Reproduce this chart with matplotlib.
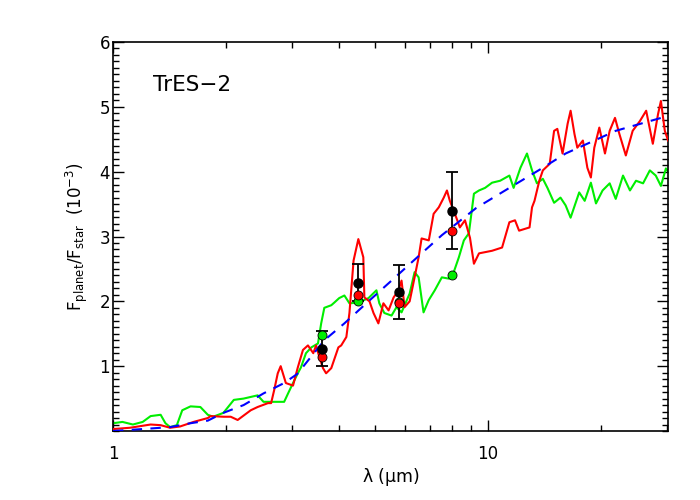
import numpy as np
import matplotlib
matplotlib.use('Agg')
from matplotlib import pyplot as plt
from matplotlib.ticker import FixedLocator, NullFormatter, MultipleLocator

# model spectrum 1 (red)
red_wl = [1.0, 1.11, 1.26, 1.34, 1.42, 1.51, 1.64, 1.79, 1.82, 1.97, 2.06, 2.15, 2.33, 2.43,
          2.59, 2.64, 2.69, 2.75, 2.80, 2.89, 3.02, 3.11, 3.21, 3.31, 3.42, 3.48, 3.55, 3.63,
          3.70, 3.82, 3.99, 4.06, 4.19, 4.27, 4.38, 4.51, 4.65, 4.68, 4.83, 4.95, 5.10, 5.26,
          5.43, 5.60, 5.77, 5.88, 5.99, 6.18, 6.37, 6.53, 6.65, 6.95, 7.16, 7.39, 7.62, 7.77,
          7.91, 8.16, 8.41, 8.68, 8.95, 9.17, 9.46, 10.25, 10.9, 11.4, 11.8, 12.1, 12.9, 13.1,
          13.3, 13.7, 14.0, 14.6, 15.0, 15.3, 15.8, 16.3, 16.6, 17.0, 17.3, 17.9, 18.4, 18.8,
          19.2, 19.8, 20.5, 21.1, 21.8, 22.4, 23.3, 24.3, 25.4, 26.4, 27.5, 28.4, 28.9, 29.6, 30.2]
red_fl = [0.03, 0.05, 0.10, 0.09, 0.05, 0.07, 0.14, 0.20, 0.23, 0.22, 0.22, 0.17, 0.32, 0.37,
          0.43, 0.43, 0.63, 0.89, 1.00, 0.74, 0.70, 0.98, 1.25, 1.32, 1.20, 1.32, 1.14, 0.97,
          0.89, 0.97, 1.29, 1.32, 1.45, 1.82, 2.63, 2.96, 2.68, 2.06, 2.00, 1.82, 1.66, 1.97,
          1.86, 2.06, 2.17, 2.32, 1.91, 2.00, 2.37, 2.68, 2.97, 2.94, 3.35, 3.45, 3.60, 3.71,
          3.55, 3.35, 3.14, 3.25, 2.98, 2.58, 2.74, 2.78, 2.83, 3.22, 3.25, 3.09, 3.14, 3.45,
          3.55, 3.86, 4.02, 4.12, 4.63, 4.66, 4.28, 4.74, 4.94, 4.58, 4.37, 4.48, 4.06, 3.91,
          4.37, 4.68, 4.28, 4.63, 4.83, 4.58, 4.25, 4.63, 4.78, 4.94, 4.43, 4.89, 5.09, 4.63, 4.48]

# model spectrum 2 (green)
grn_wl = [1.0, 1.06, 1.13, 1.20, 1.26, 1.34, 1.38, 1.42, 1.48, 1.53, 1.61, 1.71, 1.79, 1.85,
          1.97, 2.10, 2.23, 2.43, 2.52, 2.75, 2.86, 2.93, 3.02, 3.11, 3.17, 3.27, 3.38, 3.52,
          3.59, 3.66, 3.82, 3.89, 4.01, 4.14, 4.27, 4.51, 4.80, 5.04, 5.13, 5.29, 5.53, 5.70,
          5.88, 6.18, 6.37, 6.53, 6.73, 6.95, 7.21, 7.53, 7.86, 8.10, 8.36, 8.62, 8.89, 9.17,
          9.46, 9.82, 10.25, 10.77, 11.4, 11.7, 12.2, 12.7, 13.1, 13.5, 14.0, 14.4, 15.0, 15.6,
          16.1, 16.6, 17.1, 17.5, 18.1, 18.8, 19.4, 20.2, 21.1, 21.9, 22.9, 23.9, 24.8, 25.9,
          27.0, 28.0, 28.9, 29.8, 30.2]
grn_fl = [0.12, 0.14, 0.10, 0.14, 0.23, 0.25, 0.12, 0.06, 0.09, 0.32, 0.38, 0.37, 0.25, 0.22,
          0.28, 0.48, 0.50, 0.55, 0.45, 0.45, 0.45, 0.58, 0.74, 0.89, 0.98, 1.20, 1.29, 1.35,
          1.66, 1.90, 1.94, 1.98, 2.05, 2.09, 1.97, 1.98, 2.05, 2.17, 1.97, 1.82, 1.78, 1.91,
          1.83, 2.12, 2.45, 2.37, 1.83, 2.02, 2.17, 2.37, 2.35, 2.45, 2.68, 2.94, 3.05, 3.66,
          3.71, 3.75, 3.83, 3.86, 3.94, 3.75, 4.06, 4.28, 4.02, 3.82, 3.89, 3.75, 3.52, 3.60,
          3.48, 3.29, 3.51, 3.68, 3.55, 3.83, 3.51, 3.71, 3.82, 3.58, 3.94, 3.71, 3.86, 3.82,
          4.02, 3.94, 3.78, 4.05, 4.0]

# blackbody (blue dashed)
bb_wl = [1.0, 1.2, 1.42, 1.61, 1.79, 1.97, 2.23, 2.52, 2.86, 3.1, 3.66, 4.14, 4.80, 5.53,
         6.65, 7.53, 9.3, 11.4, 14.0, 16.1, 17.9, 21.9, 27.0, 30.2]
bb_fl = [0.0, 0.03, 0.06, 0.12, 0.16, 0.28, 0.40, 0.58, 0.74, 0.88, 1.40, 1.66, 2.00, 2.32,
         2.74, 3.02, 3.44, 3.75, 4.06, 4.28, 4.40, 4.63, 4.78, 4.86]

# IRAC bands
band_wl = [3.6, 4.5, 5.8, 8.0]
obs = [1.27, 2.29, 2.14, 3.40]
obs_err = [0.27, 0.28, 0.42, 0.60]
red_band = [1.14, 2.09, 1.98, 3.08]
grn_band = [1.48, 2.00, 1.99, 2.40]

plt.rcParams['mathtext.default'] = 'regular'
fig = plt.figure(figsize=(7, 5), dpi=100)
ax = fig.add_axes([0.1614, 0.138, 0.793, 0.778])

ax.plot(grn_wl, grn_fl, color='#00ee00', lw=1.5, zorder=2)
ax.plot(red_wl, red_fl, color='#ff0000', lw=1.5, zorder=3)
ax.plot(bb_wl, bb_fl, color='#0000ff', lw=1.5, ls=(0, (5, 4)), zorder=4)

ax.errorbar(band_wl, obs, yerr=obs_err, fmt='none', ecolor='black', elinewidth=1.3,
            capsize=4, capthick=1.3, zorder=5)
ax.plot(band_wl, grn_band, 'o', ms=6.5, mfc='#00ee00', mec='black', mew=0.6, zorder=6)
ax.plot(band_wl, red_band, 'o', ms=6.5, mfc='#ff0000', mec='black', mew=0.6, zorder=7)
ax.plot(band_wl, obs, 'o', ms=6.5, mfc='black', mec='black', zorder=8)

ax.set_xscale('log')
ax.set_xlim(1, 30.2)
ax.set_ylim(0, 6)
ax.xaxis.set_major_locator(FixedLocator([1, 10]))
ax.xaxis.set_minor_locator(FixedLocator([2, 3, 4, 5, 6, 7, 8, 9, 20, 30]))
ax.xaxis.set_minor_formatter(NullFormatter())
ax.set_xticklabels(['1', '10'])
ax.yaxis.set_major_locator(FixedLocator([1, 2, 3, 4, 5, 6]))
ax.yaxis.set_minor_locator(MultipleLocator(0.1))

ax.tick_params(which='both', direction='in', top=True, right=True, labelsize=12, width=1)
ax.tick_params(which='major', length=8)
ax.tick_params(which='minor', length=4)
ax.tick_params(axis='x', which='major', pad=10)
ax.tick_params(axis='y', which='major', pad=2)
for s in ax.spines.values():
    s.set_linewidth(1.2)

ax.set_xlabel(r'$\lambda$ ($\mu$m)', fontsize=12.5, labelpad=2)
ax.set_ylabel(r'F$_{\rm planet}$/F$_{\rm star}$  (10$^{-3}$)', fontsize=12, labelpad=7)
ax.text(0.072, 0.89, 'TrES\u22122', transform=ax.transAxes, fontsize=15.5, va='center')

fig.savefig('out.png', dpi=100)
